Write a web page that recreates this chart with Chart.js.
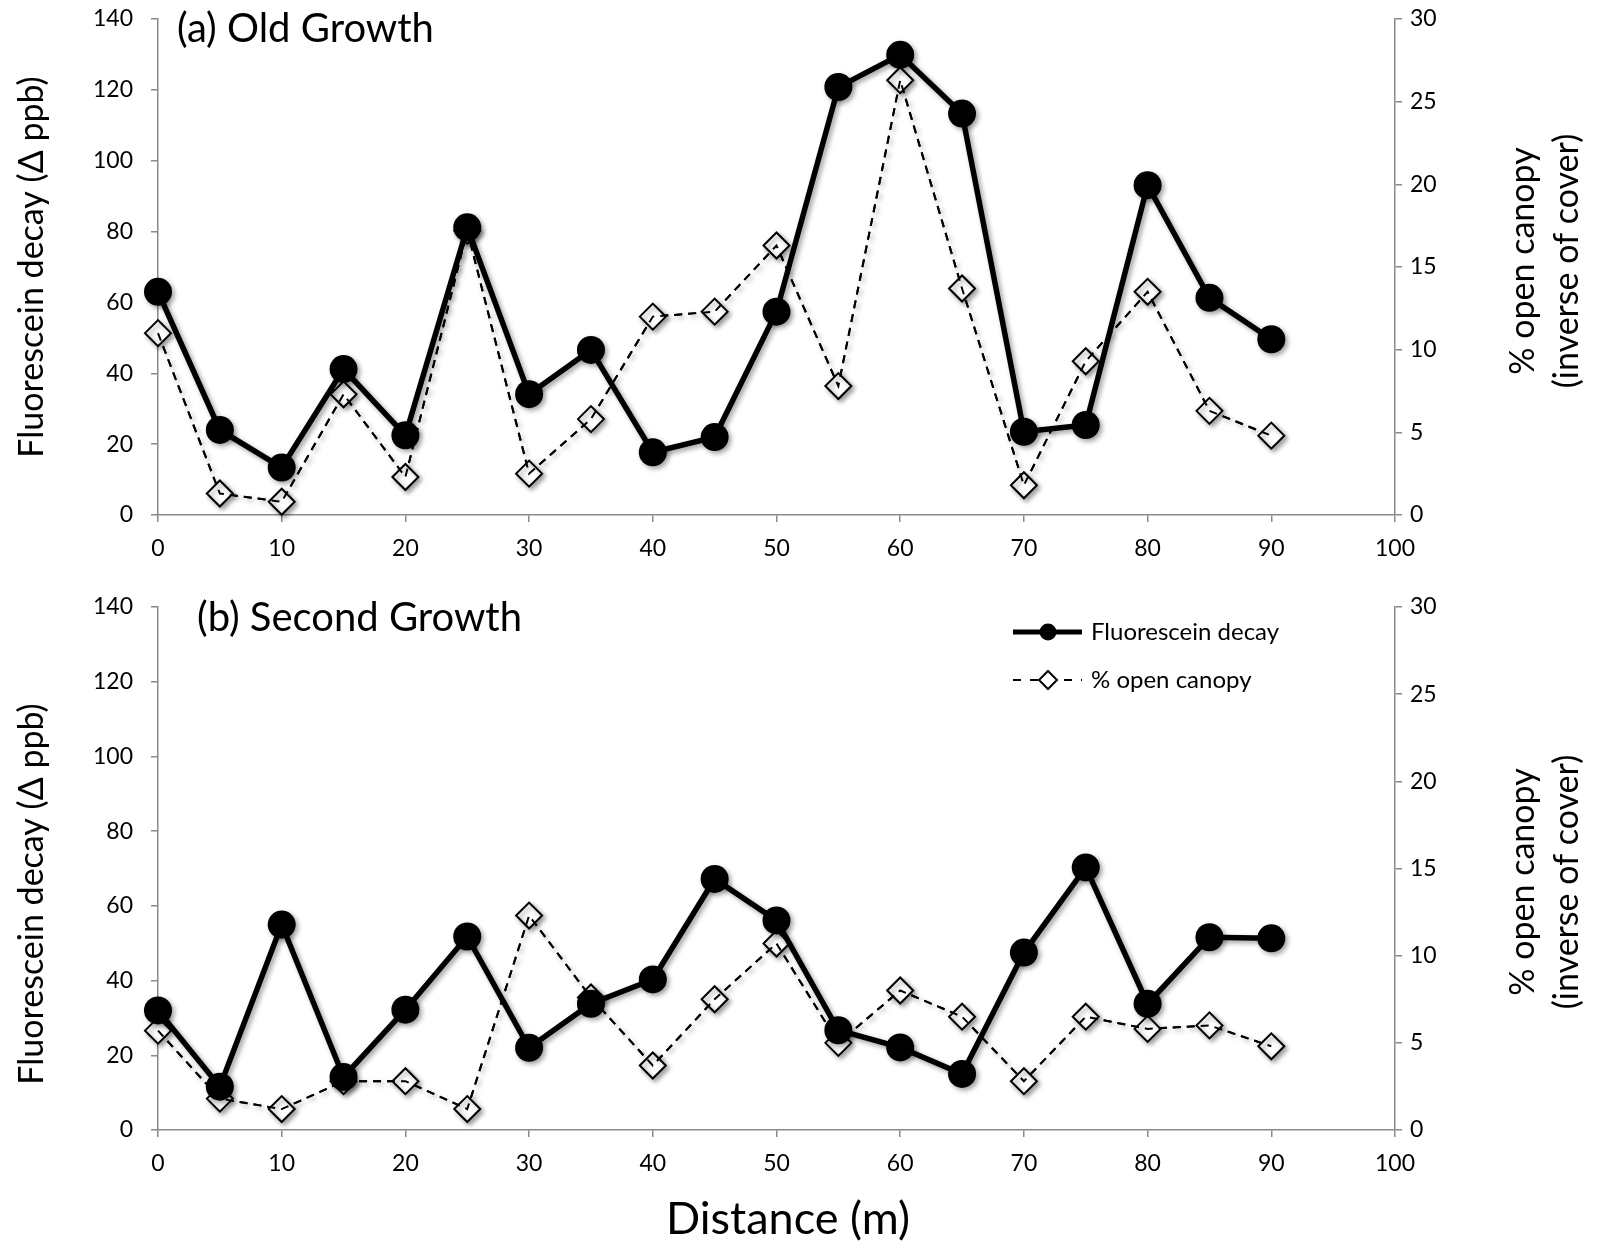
<!DOCTYPE html>
<html>
<head>
<meta charset="utf-8">
<script src="https://cdn.jsdelivr.net/npm/chart.js@4.4.1/dist/chart.umd.min.js"></script>
<style>
  html, body { margin: 0; padding: 0; background: #fff; }
  #wrap { position: relative; width: 1597px; height: 1242px; }
  canvas { position: absolute; left: 0; }
  #oldGrowth { top: 0; }
  #secondGrowth { top: 580px; }
</style>
</head>
<body>
<div id="wrap">
  <canvas id="oldGrowth" width="1597" height="580"></canvas>
  <canvas id="secondGrowth" width="1597" height="662"></canvas>
</div>
<script>
// Transect positions (m)
const distance = [0, 5, 10, 15, 20, 25, 30, 35, 40, 45, 50, 55, 60, 65, 70, 75, 80, 85, 90];

// (a) Old growth stand
const oldFluorescein = [63.0, 24.0, 13.4, 41.2, 22.5, 81.2, 34.1, 46.6, 17.7, 22.0, 57.4, 120.8, 129.9, 113.3, 23.5, 25.4, 93.1, 61.3, 49.6];
const oldCanopy      = [11.0, 1.3, 0.8, 7.3, 2.3, 17.2, 2.5, 5.8, 12.0, 12.3, 16.3, 7.8, 26.3, 13.7, 1.8, 9.3, 13.5, 6.3, 4.8];

// (b) Second growth stand
const secondFluorescein = [32.0, 11.6, 55.0, 14.2, 32.2, 51.8, 22.0, 33.8, 40.3, 67.2, 56.1, 26.7, 22.1, 15.0, 47.5, 70.3, 33.8, 51.6, 51.3];
const secondCanopy      = [5.7, 1.8, 1.2, 2.8, 2.8, 1.2, 12.3, 7.6, 3.7, 7.5, 10.7, 5.0, 8.0, 6.5, 2.8, 6.5, 5.8, 6.0, 4.8];

// Axis ticks
const xTicks = { min: 0, max: 100, step: 10 };
const leftTicks = { min: 0, max: 140, step: 20 };
const rightTicks = { min: 0, max: 30, step: 5 };

// Labels
const seriesNames = ['Fluorescein decay', '% open canopy'];
const leftTitle = 'Fluorescein decay (\u0394 ppb)';
const rightTitle = ['% open canopy', '(inverse of cover)'];
const xTitle = 'Distance (m)';

const FONT = "Lato, 'Open Sans', 'DejaVu Sans', sans-serif";
const GRAY = '#898989';
const CANVAS_W = 1597;
const PLOT_LEFT = 158;
const PLOT_RIGHT = 1395;
const CANOPY_DASH = [8, 6];

function pairs(vals) {
  return distance.map((d, i) => ({ x: d, y: vals[i] }));
}

// soft drop shadow under each series, Excel style
const shadowPlugin = {
  id: 'seriesShadow',
  beforeDatasetDraw(chart, args) {
    const ds = chart.data.datasets[args.index];
    if (ds.noShadow) return;
    const ctx = chart.ctx;
    ctx.save();
    ctx.shadowColor = 'rgba(0,0,0,0.38)';
    ctx.shadowBlur = 5;
    ctx.shadowOffsetX = 2.5;
    ctx.shadowOffsetY = 2.5;
  },
  afterDatasetDraw(chart, args) {
    const ds = chart.data.datasets[args.index];
    if (ds.noShadow) return;
    chart.ctx.restore();
  }
};

function textPlugin(o) {
  return {
    id: 'panelText',
    afterDraw(chart) {
      const ctx = chart.ctx;
      ctx.save();
      ctx.fillStyle = '#000';

      // panel label
      ctx.font = '40px ' + FONT;
      ctx.textAlign = 'left';
      ctx.textBaseline = 'middle';
      ctx.fillText(o.label, o.labelX, o.labelY);

      // left axis title
      ctx.font = '34px ' + FONT;
      ctx.save();
      ctx.translate(32, o.leftTitleY);
      ctx.rotate(-Math.PI / 2);
      ctx.textAlign = 'center';
      ctx.fillText(leftTitle, 0, 0);
      ctx.restore();

      // right axis title, two lines reading upward
      ctx.save();
      ctx.translate(1523, o.rightTitleY);
      ctx.rotate(-Math.PI / 2);
      ctx.textAlign = 'center';
      ctx.fillText(rightTitle[0], 0, 0);
      ctx.fillText(rightTitle[1], 0, 44);
      ctx.restore();

      if (o.xTitle) {
        ctx.font = '45px ' + FONT;
        ctx.textAlign = 'center';
        ctx.fillText(xTitle, 788, o.xTitleY);
      }

      if (o.legend) {
        const lx0 = 1013, lx1 = 1082, mx = 1048, tx = 1091;
        const y1 = o.legendY, y2 = o.legendY + 48;
        // solid series key
        ctx.strokeStyle = '#000';
        ctx.lineWidth = 5;
        ctx.beginPath(); ctx.moveTo(lx0, y1); ctx.lineTo(lx1, y1); ctx.stroke();
        ctx.fillStyle = '#000';
        ctx.beginPath(); ctx.arc(mx, y1, 8.5, 0, Math.PI * 2); ctx.fill();
        // dashed series key
        ctx.lineWidth = 2;
        ctx.setLineDash([8, 9]);
        ctx.beginPath(); ctx.moveTo(lx0, y2); ctx.lineTo(lx1, y2); ctx.stroke();
        ctx.setLineDash([]);
        ctx.fillStyle = '#fff';
        ctx.beginPath();
        ctx.moveTo(mx, y2 - 9); ctx.lineTo(mx + 9, y2); ctx.lineTo(mx, y2 + 9); ctx.lineTo(mx - 9, y2); ctx.closePath();
        ctx.fill(); ctx.stroke();
        ctx.fillStyle = '#000';
        ctx.font = '24px ' + FONT;
        ctx.textAlign = 'left';
        ctx.fillText(seriesNames[0], tx, y1);
        ctx.fillText(seriesNames[1], tx, y2);
      }
      ctx.restore();
    }
  };
}

function axisGrid() {
  return {
    display: true,
    drawOnChartArea: false,
    drawTicks: true,
    tickLength: 7,
    color: GRAY,
    tickColor: GRAY,
    lineWidth: 1.5,
    tickWidth: 1.5
  };
}

// keep the plot box where the layout puts it, not pushed by tick label overhang
function noOverhang(s) {
  s.paddingTop = 0;
  s.paddingBottom = 0;
}

function makePanel(id, height, top, bottom, fluor, canopy, textOpts) {
  const tickFont = { family: FONT, size: 23 };
  return new Chart(document.getElementById(id), {
    type: 'line',
    data: {
      datasets: [
        {
          label: seriesNames[0],
          data: pairs(fluor),
          yAxisID: 'y',
          order: 0,
          borderColor: '#000',
          borderWidth: 5.5,
          pointRadius: 14,
          pointHoverRadius: 14,
          pointBackgroundColor: '#000',
          pointBorderColor: '#000',
          pointBorderWidth: 0,
          tension: 0,
          clip: false
        },
        {
          // dashed trace passing over the open markers
          label: seriesNames[1],
          data: pairs(canopy),
          yAxisID: 'y2',
          order: 1,
          noShadow: true,
          borderColor: '#000',
          borderWidth: 2,
          borderDash: CANOPY_DASH,
          pointRadius: 0,
          pointHoverRadius: 0,
          tension: 0,
          clip: false
        },
        {
          label: seriesNames[1],
          data: pairs(canopy),
          yAxisID: 'y2',
          order: 2,
          borderColor: '#000',
          borderWidth: 2,
          borderDash: CANOPY_DASH,
          pointStyle: 'rectRot',
          pointRadius: 13,
          pointHoverRadius: 13,
          pointBackgroundColor: '#fff',
          pointBorderColor: '#000',
          pointBorderWidth: 2,
          tension: 0,
          clip: false
        }
      ]
    },
    options: {
      responsive: false,
      animation: false,
      events: [],
      layout: { padding: { top: top, left: 0, right: 0, bottom: 0 } },
      plugins: { legend: { display: false }, tooltip: { enabled: false } },
      scales: {
        x: {
          type: 'linear',
          position: 'bottom',
          min: xTicks.min, max: xTicks.max,
          ticks: { stepSize: xTicks.step, color: '#000', font: tickFont, padding: 13, maxRotation: 0 },
          grid: axisGrid(),
          border: { display: true, color: GRAY, width: 1.5 },
          afterFit(s) { s.height = height - bottom; }
        },
        y: {
          type: 'linear',
          position: 'left',
          min: leftTicks.min, max: leftTicks.max,
          ticks: { stepSize: leftTicks.step, color: '#000', font: tickFont, padding: 18 },
          grid: axisGrid(),
          border: { display: true, color: GRAY, width: 1.5 },
          afterFit(s) { s.width = PLOT_LEFT; noOverhang(s); }
        },
        y2: {
          type: 'linear',
          position: 'right',
          min: rightTicks.min, max: rightTicks.max,
          ticks: { stepSize: rightTicks.step, color: '#000', font: tickFont, padding: 8 },
          grid: axisGrid(),
          border: { display: true, color: GRAY, width: 1.5 },
          afterFit(s) { s.width = CANVAS_W - PLOT_RIGHT; noOverhang(s); }
        }
      }
    },
    plugins: [shadowPlugin, textPlugin(textOpts)]
  });
}

makePanel('oldGrowth', 580, 19, 515, oldFluorescein, oldCanopy, {
  label: '(a) Old Growth', labelX: 177, labelY: 29,
  leftTitleY: 267, rightTitleY: 261
});

makePanel('secondGrowth', 662, 27, 550, secondFluorescein, secondCanopy, {
  label: '(b) Second Growth', labelX: 197, labelY: 38,
  leftTitleY: 314, rightTitleY: 302,
  xTitle: true, xTitleY: 639,
  legend: true, legendY: 52
});
</script>
</body>
</html>
